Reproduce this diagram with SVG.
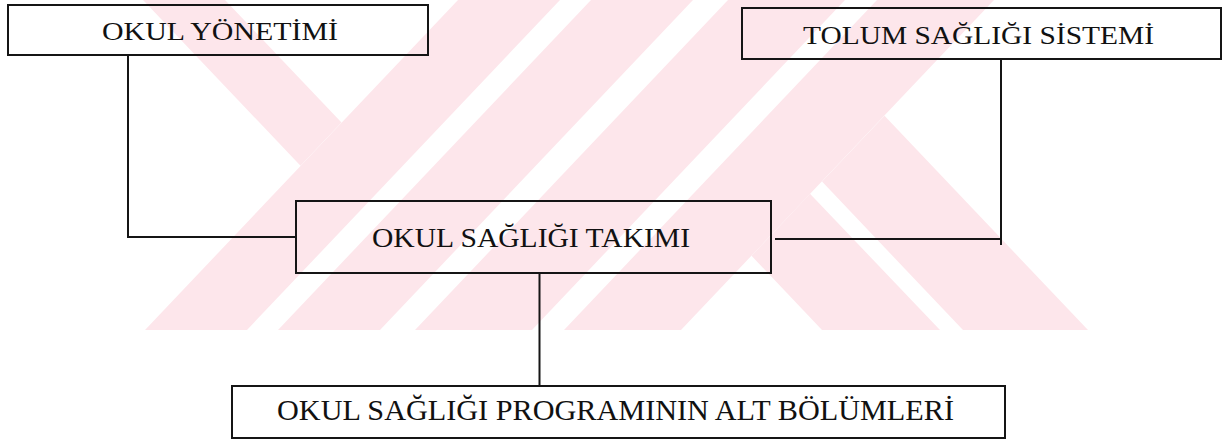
<svg xmlns="http://www.w3.org/2000/svg" width="1228" height="440" viewBox="0 0 1228 440">
  <style>
    .wm { fill: #fde6eb; stroke: none; }
    .box { fill: none; stroke: #151515; stroke-width: 2; }
    .lbl { font-family: "Liberation Serif", "Times New Roman", serif; fill: #111; }
    .conn { fill: none; stroke: #151515; stroke-width: 2; }
  </style>
  <rect x="0" y="0" width="1228" height="440" fill="#ffffff"/>
  <g id="watermark">
    <polygon class="wm" points="145,330 247,330 560,0 458,0"/>
    <polygon class="wm" points="278,330 380,330 693,0 591,0"/>
    <polygon class="wm" points="415,330 532,330 845,0 728,0"/>
    <polygon class="wm" points="564,330 681,330 994,0 877,0"/>
    <polygon class="wm" points="143,0 225,0 341.5,122.6 300.5,165.8"/>
    <polygon class="wm" points="963,330 1088,330 884.5,115.8 822,181.6"/>
    <polygon class="wm" points="822,330 940,330 810,193.7 751.5,255.8"/>
  </g>
  <g id="connectors">
    <path class="conn" d="M128,56 V237 H296"/>
    <path class="conn" d="M1001,59 V245"/>
    <path class="conn" d="M775,239 H1001"/>
    <path class="conn" d="M539.5,273 V387"/>
  </g>
  <g id="node-okul-yonetimi">
    <rect class="box" x="8" y="5" width="420" height="50"/>
    <text class="lbl" x="102" y="40" font-size="25" textLength="236" lengthAdjust="spacingAndGlyphs">OKUL YÖNETİMİ</text>
  </g>
  <g id="node-tolum-sagligi">
    <rect class="box" x="742" y="8" width="479" height="51"/>
    <text class="lbl" x="803" y="44" font-size="25" textLength="351" lengthAdjust="spacingAndGlyphs">TOLUM SAĞLIĞI SİSTEMİ</text>
  </g>
  <g id="node-okul-sagligi-takimi">
    <rect class="box" x="296" y="201" width="475" height="72"/>
    <text class="lbl" x="372" y="246.5" font-size="27" textLength="318" lengthAdjust="spacingAndGlyphs">OKUL SAĞLIĞI TAKIMI</text>
  </g>
  <g id="node-alt-bolumler">
    <rect class="box" x="232" y="386" width="773" height="52"/>
    <text class="lbl" x="277" y="419.5" font-size="29" textLength="677" lengthAdjust="spacingAndGlyphs">OKUL SAĞLIĞI PROGRAMININ ALT BÖLÜMLERİ</text>
  </g>
</svg>
